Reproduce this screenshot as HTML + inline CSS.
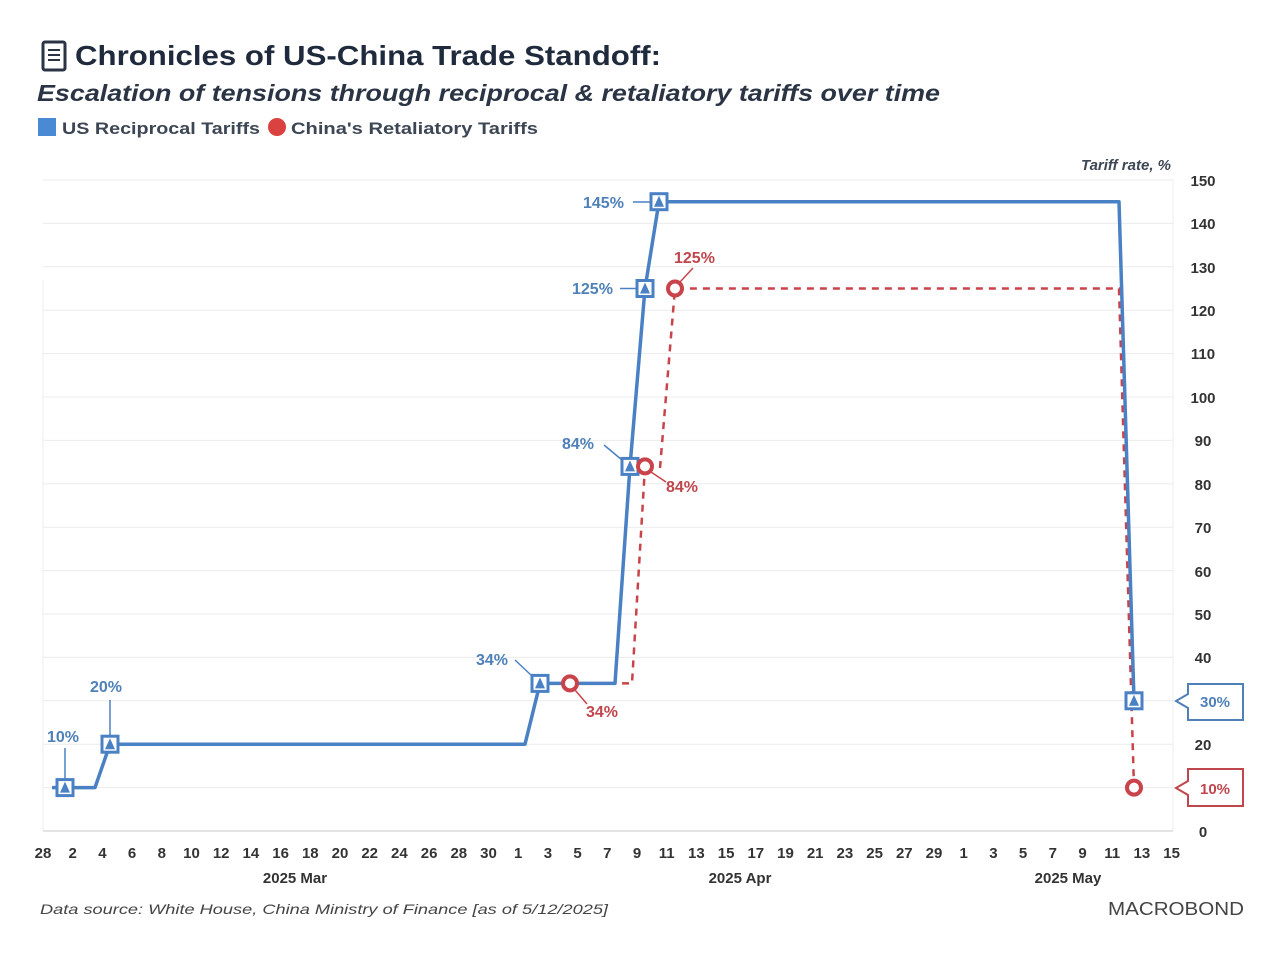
<!DOCTYPE html>
<html><head><meta charset="utf-8"><style>
html,body{margin:0;padding:0;background:#fff;}
svg{display:block;font-family:"Liberation Sans","DejaVu Sans",sans-serif;}
</style></head><body>
<svg width="1276" height="956" viewBox="0 0 1276 956" xmlns="http://www.w3.org/2000/svg">
<rect width="1276" height="956" fill="#fff"/>
<rect x="43" y="42" width="22" height="28" rx="2" fill="none" stroke="#2a3444" stroke-width="3"/>
<line x1="48" y1="50" x2="60" y2="50" stroke="#2a3444" stroke-width="2"/>
<line x1="48" y1="55" x2="60" y2="55" stroke="#2a3444" stroke-width="2"/>
<line x1="48" y1="60" x2="60" y2="60" stroke="#2a3444" stroke-width="2"/>
<text x="75" y="65" font-size="28" font-weight="bold" fill="#1f2b3c" textLength="586" lengthAdjust="spacingAndGlyphs">Chronicles of US-China Trade Standoff:</text>
<text x="37" y="101" font-size="23" font-weight="bold" font-style="italic" fill="#2a3444" textLength="903" lengthAdjust="spacingAndGlyphs">Escalation of tensions through reciprocal &amp; retaliatory tariffs over time</text>
<rect x="38" y="118" width="18" height="18" fill="#4a8ad4"/>
<text x="62" y="134" font-size="17" font-weight="bold" fill="#3d4654" textLength="198" lengthAdjust="spacingAndGlyphs">US Reciprocal Tariffs</text>
<circle cx="277" cy="127" r="9" fill="#d9423f"/>
<text x="291" y="134" font-size="17" font-weight="bold" fill="#3d4654" textLength="247" lengthAdjust="spacingAndGlyphs">China's Retaliatory Tariffs</text>
<text x="1171" y="170" font-size="15" font-weight="bold" font-style="italic" fill="#3d4654" text-anchor="end">Tariff rate, %</text>
<g stroke="#ececec" stroke-width="1">
<line x1="43" y1="180" x2="1173" y2="180"/><line x1="43" y1="223.4" x2="1173" y2="223.4"/>
<line x1="43" y1="266.8" x2="1173" y2="266.8"/><line x1="43" y1="310.2" x2="1173" y2="310.2"/>
<line x1="43" y1="353.6" x2="1173" y2="353.6"/><line x1="43" y1="397" x2="1173" y2="397"/>
<line x1="43" y1="440.4" x2="1173" y2="440.4"/><line x1="43" y1="483.8" x2="1173" y2="483.8"/>
<line x1="43" y1="527.2" x2="1173" y2="527.2"/><line x1="43" y1="570.6" x2="1173" y2="570.6"/>
<line x1="43" y1="614" x2="1173" y2="614"/><line x1="43" y1="657.4" x2="1173" y2="657.4"/>
<line x1="43" y1="700.8" x2="1173" y2="700.8"/><line x1="43" y1="744.2" x2="1173" y2="744.2"/>
<line x1="43" y1="787.6" x2="1173" y2="787.6"/>
<line x1="1173" y1="180" x2="1173" y2="831"/>
<line x1="43" y1="280" x2="43" y2="831"/>
</g>
<line x1="43" y1="831" x2="1173" y2="831" stroke="#dcdcdc" stroke-width="1.5"/>
<g font-size="15" font-weight="bold" fill="#333" text-anchor="middle">
<text x="1203" y="186">150</text><text x="1203" y="229">140</text><text x="1203" y="273">130</text>
<text x="1203" y="316">120</text><text x="1203" y="359">110</text><text x="1203" y="403">100</text>
<text x="1203" y="446">90</text><text x="1203" y="490">80</text><text x="1203" y="533">70</text>
<text x="1203" y="577">60</text><text x="1203" y="620">50</text><text x="1203" y="663">40</text>
<text x="1203" y="750">20</text><text x="1203" y="837">0</text>
</g>
<g font-size="15" font-weight="bold" fill="#333" text-anchor="middle">
<text x="43" y="858">28</text><text x="72.7" y="858">2</text><text x="102.4" y="858">4</text><text x="132.1" y="858">6</text>
<text x="161.8" y="858">8</text><text x="191.5" y="858">10</text><text x="221.2" y="858">12</text><text x="250.9" y="858">14</text>
<text x="280.6" y="858">16</text><text x="310.3" y="858">18</text><text x="340" y="858">20</text><text x="369.7" y="858">22</text>
<text x="399.4" y="858">24</text><text x="429.1" y="858">26</text><text x="458.8" y="858">28</text><text x="488.5" y="858">30</text>
<text x="518.2" y="858">1</text><text x="547.9" y="858">3</text><text x="577.6" y="858">5</text><text x="607.3" y="858">7</text>
<text x="637" y="858">9</text><text x="666.7" y="858">11</text><text x="696.4" y="858">13</text><text x="726.1" y="858">15</text>
<text x="755.8" y="858">17</text><text x="785.5" y="858">19</text><text x="815.2" y="858">21</text><text x="844.9" y="858">23</text>
<text x="874.6" y="858">25</text><text x="904.3" y="858">27</text><text x="934" y="858">29</text>
<text x="963.7" y="858">1</text><text x="993.4" y="858">3</text><text x="1023.1" y="858">5</text><text x="1052.8" y="858">7</text>
<text x="1082.5" y="858">9</text><text x="1112.2" y="858">11</text><text x="1141.9" y="858">13</text><text x="1171.6" y="858">15</text>
<text x="295" y="883">2025 Mar</text><text x="740" y="883">2025 Apr</text><text x="1068" y="883">2025 May</text>
</g>
<text x="40" y="914" font-size="14" font-style="italic" fill="#444" textLength="568" lengthAdjust="spacingAndGlyphs">Data source: White House, China Ministry of Finance [as of 5/12/2025]</text>
<text x="1176" y="915" font-size="18" fill="#444" text-anchor="middle" textLength="136" lengthAdjust="spacingAndGlyphs">MACROBOND</text>
<polyline points="570,683.4 632,683.4 645,466.4" fill="none" stroke="#c9434a" stroke-width="2.5" stroke-dasharray="7,6"/>
<polyline points="660,468 675,288.5 1119,288.5 1134,787.6" fill="none" stroke="#c9434a" stroke-width="2.5" stroke-dasharray="7,6"/>
<polyline points="52,787.6 95,787.6 110,744.2 525,744.2 540,683.4 615,683.4 630,466.4 645,288.5 659,201.7 1119,201.7 1134,700.8" fill="none" stroke="#4a80c4" stroke-width="3.5" stroke-linejoin="round"/>
<g fill="#fff" stroke="#4a80c4" stroke-width="3">
<rect x="57" y="779.6" width="16" height="16"/><rect x="102" y="736.2" width="16" height="16"/>
<rect x="532" y="675.4" width="16" height="16"/><rect x="622" y="458.4" width="16" height="16"/>
<rect x="637" y="280.5" width="16" height="16"/><rect x="651" y="193.7" width="16" height="16"/>
<rect x="1126" y="692.8" width="16" height="16"/>
</g>
<g fill="#4a80c4">
<polygon points="65,781.6 70,792.6 60,792.6"/><polygon points="110,738.2 115,749.2 105,749.2"/>
<polygon points="540,677.4 545,688.4 535,688.4"/><polygon points="630,460.4 635,471.4 625,471.4"/>
<polygon points="645,282.5 650,293.5 640,293.5"/><polygon points="659,195.7 664,206.7 654,206.7"/>
<polygon points="1134,694.8 1139,705.8 1129,705.8"/>
</g>
<g fill="#fff" stroke="#c9434a" stroke-width="4">
<circle cx="570" cy="683.4" r="7"/><circle cx="645" cy="466.4" r="7"/>
<circle cx="675" cy="288.5" r="7"/><circle cx="1134" cy="787.6" r="7"/>
</g>
<g stroke="#4a80c4" stroke-width="1.5">
<line x1="65" y1="779" x2="65" y2="748"/><line x1="110" y1="736" x2="110" y2="700"/>
<line x1="532" y1="676" x2="515" y2="660"/><line x1="622" y1="460" x2="604" y2="445"/>
<line x1="620" y1="288.5" x2="637" y2="288.5"/><line x1="633" y1="202" x2="651" y2="202"/>
</g>
<g stroke="#c9434a" stroke-width="1.5">
<line x1="575" y1="690" x2="587" y2="704"/><line x1="651" y1="472" x2="666" y2="482"/>
<line x1="680" y1="282" x2="693" y2="268"/>
</g>
<g font-size="16" font-weight="bold" fill="#4f80b8">
<text x="47" y="742">10%</text><text x="90" y="692">20%</text><text x="476" y="665">34%</text>
<text x="562" y="449">84%</text><text x="572" y="294">125%</text><text x="583" y="208">145%</text>
</g>
<g font-size="16" font-weight="bold" fill="#c0464d">
<text x="586" y="717">34%</text><text x="666" y="492">84%</text><text x="674" y="263">125%</text>
</g>
<path d="M1188,684 L1243,684 L1243,720 L1188,720 L1188,708 L1176,701 L1188,694 Z" fill="#fff" stroke="#4f80b8" stroke-width="2"/>
<text x="1215" y="707" font-size="15" font-weight="bold" fill="#4f80b8" text-anchor="middle">30%</text>
<path d="M1188,769 L1243,769 L1243,806 L1188,806 L1188,795 L1176,788 L1188,781 Z" fill="#fff" stroke="#c0464d" stroke-width="2"/>
<text x="1215" y="794" font-size="15" font-weight="bold" fill="#c0464d" text-anchor="middle">10%</text>
</svg>
</body></html>
